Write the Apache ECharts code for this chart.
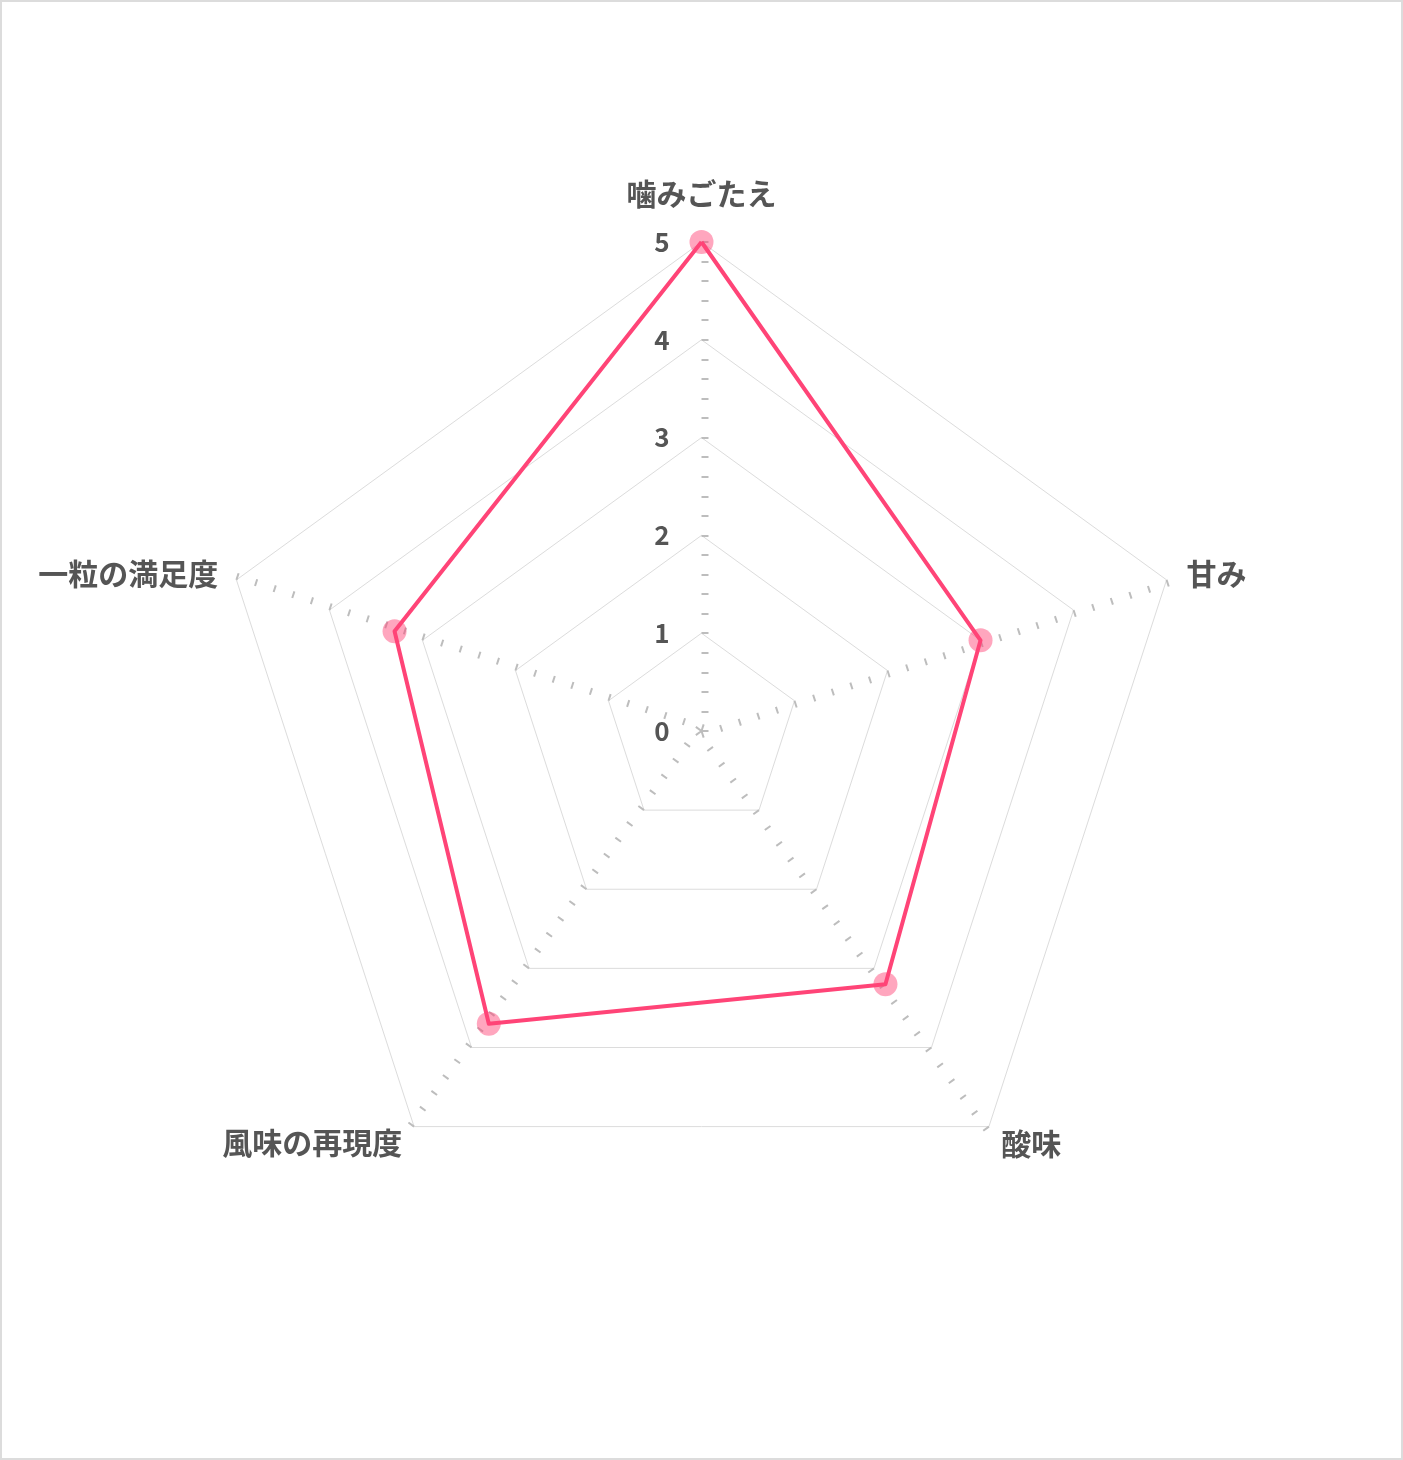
<!DOCTYPE html>
<html>
<head>
<meta charset="utf-8">
<script src="https://cdn.jsdelivr.net/npm/echarts@6/dist/echarts.min.js"></script>
<style>
html,body{margin:0;padding:0;background:#fff;}
#chart{width:1403px;height:1460px;box-sizing:border-box;border:2px solid #dcdcdc;}
</style>
</head>
<body>
<div id="chart"></div>
<script>
// Clockwise order as in the reference, starting at the top
const indicatorNames = ['噛みごたえ', '甘み', '酸味', '風味の再現度', '一粒の満足度'];
const scoreValues = [5, 3, 3.2, 3.7, 3.3];
const maxValue = 5;
const nameGaps = [33, 21, 21, 20, 19];

// ECharts lays indicators out counter-clockwise, so reverse after the first
const order = [0, 4, 3, 2, 1];

const chart = echarts.init(document.getElementById('chart'), null, {renderer: 'canvas'});
const font = '"Noto Sans CJK JP", "Noto Sans", sans-serif';
const tickStyle = {color: '#bdbdbd', width: 2};

const indicators = order.map(function (i) {
  const ind = {
    name: indicatorNames[i], min: 0, max: maxValue,
    nameGap: nameGaps[i],
    minorTick: {show: true, splitNumber: 5, length: -7, lineStyle: tickStyle}
  };
  if (i === 0) {
    ind.axisLabel = {show: true, showMinLabel: true};
  }
  return ind;
});
const seriesValues = order.map(function (i) { return scoreValues[i]; });

chart.setOption({
  backgroundColor: '#fff',
  radar: {
    center: [699.5, 729],
    radius: 489,
    startAngle: 90,
    splitNumber: 5,
    shape: 'polygon',
    indicator: indicators,
    nameGap: 20,
    axisName: {color: '#555', fontSize: 30, fontWeight: 'bold', fontFamily: font},
    axisLine: {show: false},
    axisTick: {show: true, length: -7, lineStyle: tickStyle},
    axisLabel: {show: false, showMinLabel: false, color: '#555', fontSize: 26, fontWeight: 'bold', fontFamily: font, margin: 32},
    splitLine: {lineStyle: {color: '#dcdcdc', width: 1}},
    splitArea: {show: false}
  },
  series: [{
    type: 'radar',
    symbol: 'circle',
    symbolSize: 24,
    lineStyle: {color: '#ff4477', width: 4},
    itemStyle: {color: 'rgba(255,68,119,0.48)'},
    data: [{value: seriesValues, name: '評価'}]
  }]
});
</script>
</body>
</html>
